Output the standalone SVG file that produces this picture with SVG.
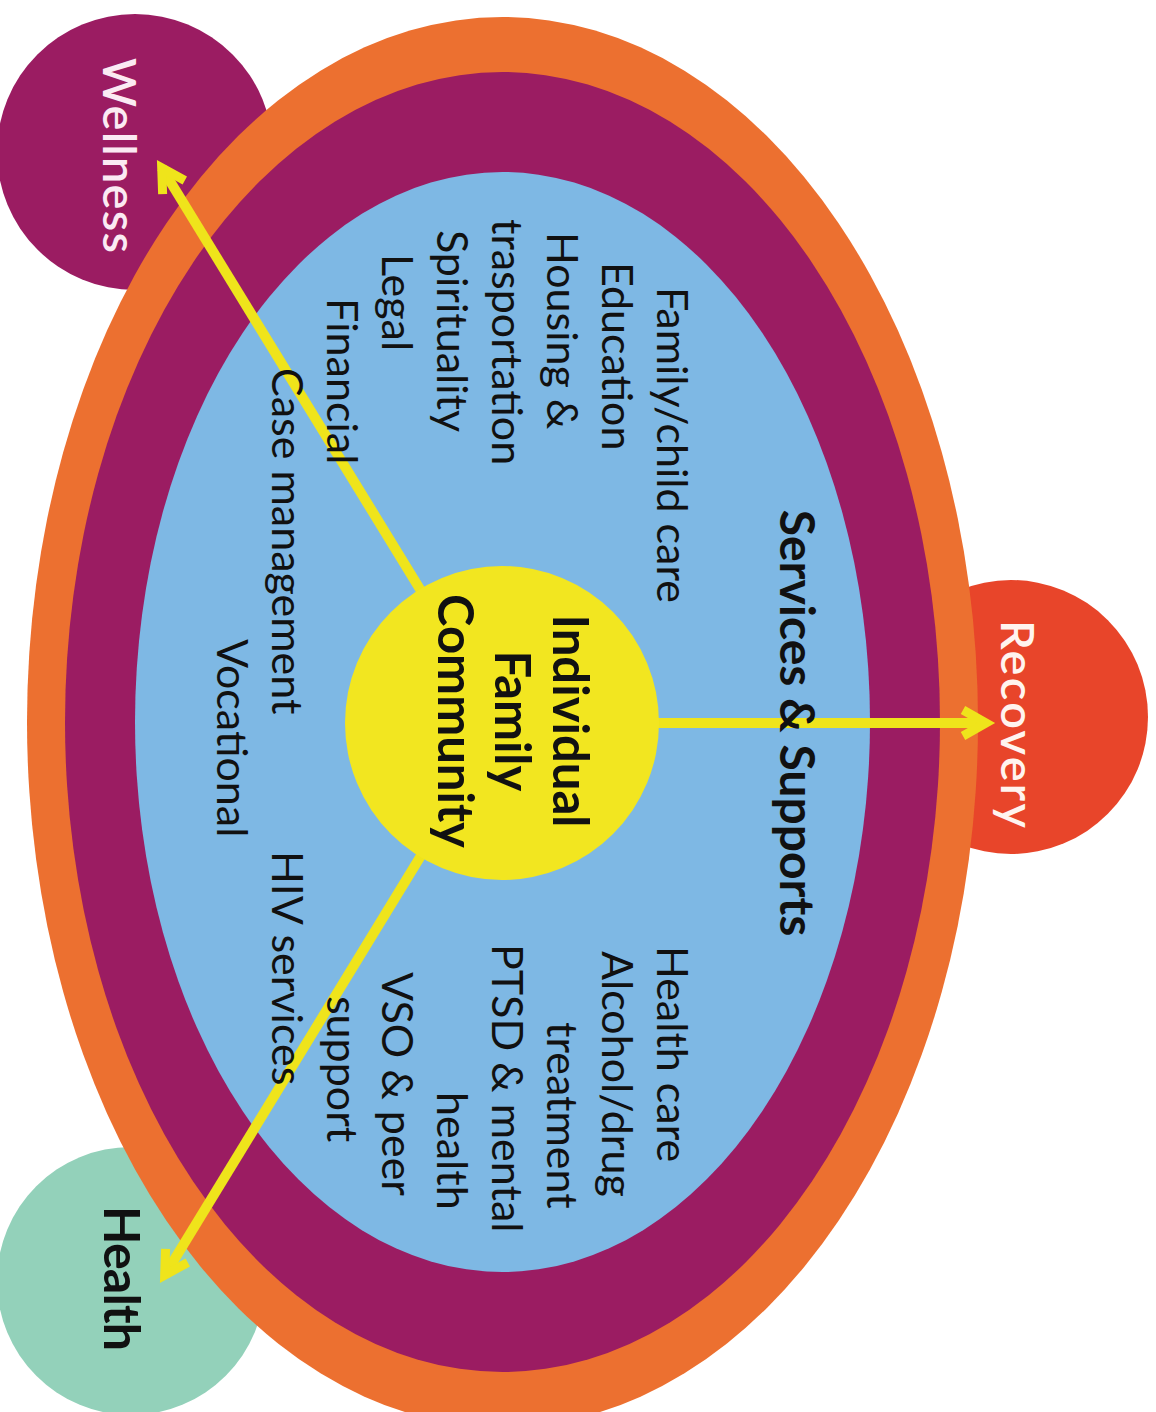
<svg xmlns="http://www.w3.org/2000/svg" width="1156" height="1412" viewBox="0 0 1156 1412">
<style>
.body{font-family:Lato,"Liberation Sans",sans-serif;font-size:43px;fill:#111;}
.bold{font-family:Lato,"Liberation Sans",sans-serif;font-weight:700;fill:#111;}
.lbl{font-family:Lato,"Liberation Sans",sans-serif;font-weight:600;font-size:47px;}
.arrow{stroke:#EFE41B;stroke-width:10;fill:none;}
</style>
<defs>
<marker id="chev" markerUnits="userSpaceOnUse" markerWidth="60" markerHeight="60" viewBox="-40 -30 60 60" refX="0" refY="0" orient="auto">
<path d="M -23,-13 L 0,0 L -23,13" fill="none" stroke="#EFE41B" stroke-width="9" stroke-linejoin="miter" stroke-miterlimit="10"/>
</marker>
</defs>
<rect width="1156" height="1412" fill="#fff"/>
<g id="wellness">
<circle cx="135" cy="152" r="138" fill="#9B1C62"/>
<text class="lbl" fill="#FBEAF3" transform="translate(103,58) rotate(90)" textLength="195" lengthAdjust="spacing">Wellness</text>
</g>
<g id="health">
<circle cx="131" cy="1281" r="134" fill="#93D1BA"/>
<text class="bold" font-size="50" transform="translate(104,1206) rotate(90)" textLength="145" lengthAdjust="spacing">Health</text>
</g>
<g id="recovery">
<circle cx="1011" cy="717" r="137" fill="#E8452A"/>
<text class="lbl" fill="#FFF4EF" transform="translate(1001,620) rotate(90)" textLength="208" lengthAdjust="spacing">Recovery</text>
</g>
<g id="rings">
<ellipse cx="502.5" cy="722" rx="475.5" ry="705" fill="#EC7030"/>
<ellipse cx="502.5" cy="722" rx="437.5" ry="650" fill="#9B1C62"/>
<ellipse cx="502.5" cy="722" rx="367.5" ry="550" fill="#7EB8E4"/>
</g>
<g id="connectors">
<line class="arrow" x1="502" y1="723" x2="161.7" y2="167.7" marker-end="url(#chev)"/>
<line class="arrow" x1="502" y1="723" x2="164.7" y2="1275.3" marker-end="url(#chev)"/>
<line class="arrow" x1="502" y1="723" x2="986" y2="723" marker-end="url(#chev)"/>
</g>
<g id="center">
<circle cx="502" cy="723" r="157" fill="#F2E620"/>
<text class="bold" font-size="49" text-anchor="middle" transform="translate(553,721) rotate(90)">Individual</text>
<text class="bold" font-size="49" text-anchor="middle" transform="translate(495,721) rotate(90)">Family</text>
<text class="bold" font-size="49" text-anchor="middle" transform="translate(438,721) rotate(90)">Community</text>
</g>
<g id="services">
<text class="bold" font-size="48" text-anchor="middle" transform="translate(780,723) rotate(90)">Services &amp; Supports</text>
<text class="body" transform="translate(657,287) rotate(90)">Family/child care</text>
<text class="body" transform="translate(602,262) rotate(90)">Education</text>
<text class="body" transform="translate(547,232) rotate(90)">Housing &amp;</text>
<text class="body" transform="translate(492,219) rotate(90)">trasportation</text>
<text class="body" transform="translate(437,230) rotate(90)">Spirituality</text>
<text class="body" transform="translate(382,254) rotate(90)">Legal</text>
<text class="body" transform="translate(327,298) rotate(90)">Financial</text>
<text class="body" transform="translate(272,368) rotate(90)">Case management</text>
<text class="body" transform="translate(217,639) rotate(90)">Vocational</text>
<text class="body" transform="translate(657,946) rotate(90)">Health care</text>
<text class="body" transform="translate(602,951) rotate(90)">Alcohol/drug</text>
<text class="body" transform="translate(547,1022) rotate(90)">treatment</text>
<text class="body" transform="translate(492,944) rotate(90)">PTSD &amp; mental</text>
<text class="body" transform="translate(437,1092) rotate(90)">health</text>
<text class="body" transform="translate(382,972) rotate(90)">VSO &amp; peer</text>
<text class="body" transform="translate(327,996) rotate(90)">support</text>
<text class="body" transform="translate(272,851) rotate(90)">HIV services</text>
</g>
</svg>
